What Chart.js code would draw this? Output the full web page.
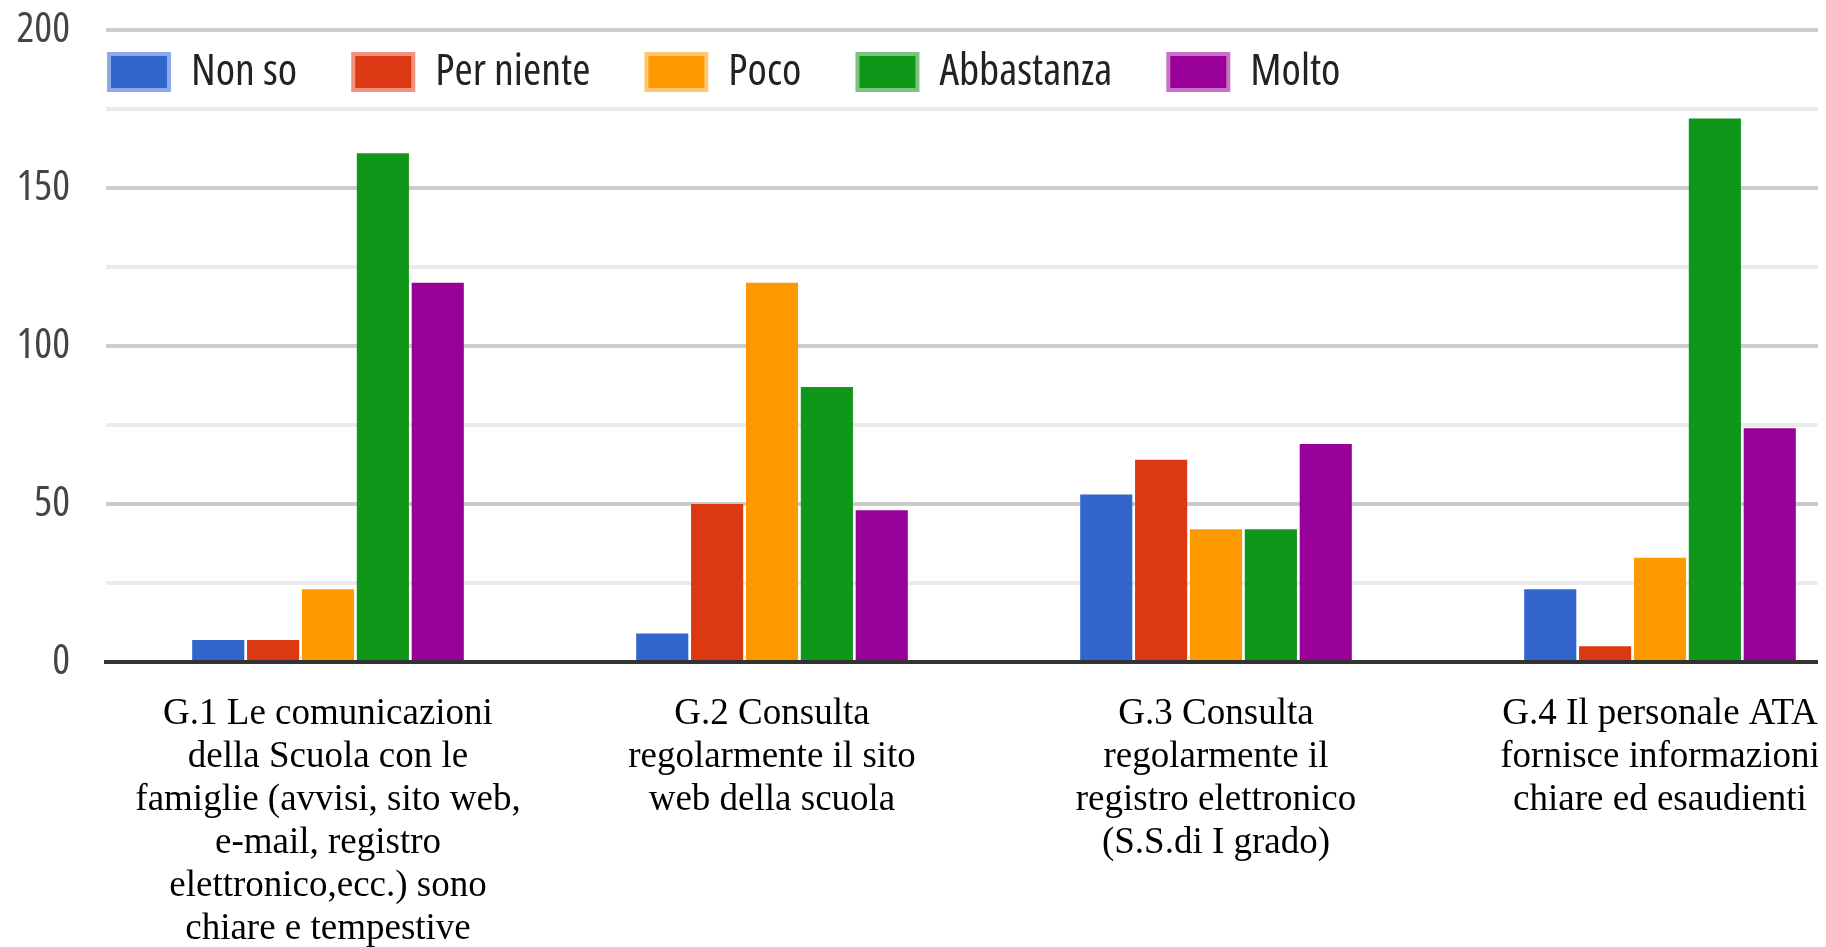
<!DOCTYPE html>
<html>
<head>
<meta charset="utf-8">
<script src="https://cdn.jsdelivr.net/npm/chart.js@4/dist/chart.umd.min.js"></script>
<style>
  html, body { margin: 0; padding: 0; background: #fff; overflow: hidden; }
  #wrap { width: 1818px; height: 947px; overflow: hidden; }
  canvas { display: block; }
</style>
</head>
<body>
<div id="wrap"><canvas id="chart" width="1882" height="947"></canvas></div>
<script>
// x axis labels, already wrapped the way the picture shows them
const categories = [
  ['G.1 Le comunicazioni', 'della Scuola con le', 'famiglie (avvisi, sito web,', 'e-mail, registro', 'elettronico,ecc.) sono', 'chiare e tempestive'],
  ['G.2 Consulta', 'regolarmente il sito', 'web della scuola'],
  ['G.3 Consulta', 'regolarmente il', 'registro elettronico', '(S.S.di I grado)'],
  ['G.4 Il personale ATA', 'fornisce informazioni', 'chiare ed esaudienti']
];

const seriesNames = ['Non so', 'Per niente', 'Poco', 'Abbastanza', 'Molto'];
const seriesColors = ['#3366cc', '#dc3912', '#ff9900', '#109618', '#990099'];

const nonSo = [7, 9, 53, 23];
const perNiente = [7, 50, 64, 5];
const poco = [23, 120, 42, 33];
const abbastanza = [161, 87, 42, 172];
const molto = [120, 48, 69, 74];

const yMax = 200;
const yStep = 25;
const yLabelStep = 50;

const seriesValues = [nonSo, perNiente, poco, abbastanza, molto];

// Open Sans has a width axis; "condensed" goes in the weight slot of the font string
const narrowFont = (size) => ({ family: "'Open Sans', sans-serif", weight: 'condensed', size });

// mix a hex colour with white, for the soft edge of the legend boxes
function lighten(hex, amt) {
  const n = parseInt(hex.slice(1), 16);
  const r = (n >> 16) & 255, g = (n >> 8) & 255, b = n & 255;
  const m = c => Math.round(c + (255 - c) * amt);
  return `rgb(${m(r)}, ${m(g)}, ${m(b)})`;
}

// legend sits inside the plot, in one row, just under the top gridline
const legendInside = {
  id: 'legendInside',
  afterInit(chart) {
    if (chart.legend) chart.legend.isHorizontal = () => true;
  },
  afterLayout(chart) {
    const lg = chart.legend;
    if (!lg) return;
    const pad = lg.options.labels.padding;
    lg.left = chart.chartArea.left + 3 - pad;
    lg.top = chart.chartArea.top + 20 - pad;
  }
};

new Chart(document.getElementById('chart').getContext('2d'), {
  type: 'bar',
  data: {
    labels: categories,
    datasets: seriesNames.map((name, i) => ({
      label: name,
      data: seriesValues[i],
      backgroundColor: seriesColors[i],
      borderWidth: 0,
      categoryPercentage: 0.618,
      barPercentage: 0.95
    }))
  },
  options: {
    responsive: false,
    animation: false,
    layout: { padding: { top: 30, right: 0, left: 0, bottom: 0 } },
    plugins: {
      tooltip: { enabled: false },
      legend: {
        position: 'chartArea',
        align: 'start',
        labels: {
          boxWidth: 60,
          boxHeight: 36,
          padding: 56,
          color: '#222',
          font: narrowFont(44),
          generateLabels(chart) {
            const items = Chart.defaults.plugins.legend.labels.generateLabels(chart);
            items.forEach((it, i) => {
              it.strokeStyle = lighten(seriesColors[i], 0.45);
              it.lineWidth = 4;
            });
            return items;
          }
        }
      }
    },
    scales: {
      x: {
        grid: { display: false, drawTicks: false },
        border: { display: true, color: '#333', width: 4, z: 1 },
        ticks: {
          color: '#000',
          maxRotation: 0,
          autoSkip: false,
          padding: 31,
          font: { family: "'Liberation Serif', 'Times New Roman', serif", size: 37, lineHeight: 1.162 }
        },
        afterFit(scale) { scale.height = 285; }
      },
      y: {
        min: 0,
        max: yMax,
        border: { display: false },
        grid: {
          drawTicks: false,
          lineWidth: 4,
          color(ctx) {
            const v = ctx.tick.value;
            if (v === 0) return 'rgba(0,0,0,0)';
            return v % yLabelStep === 0 ? '#cccccc' : '#ebebeb';
          }
        },
        ticks: {
          stepSize: yStep,
          padding: 36,
          color: '#444',
          font: narrowFont(42),
          callback: v => (v % yLabelStep === 0 ? v : '')
        },
        afterFit(scale) {
          scale.width = 106;
          scale.paddingTop = 0;
          scale.paddingBottom = 0;
        }
      }
    }
  },
  plugins: [legendInside]
});
</script>
</body>
</html>
